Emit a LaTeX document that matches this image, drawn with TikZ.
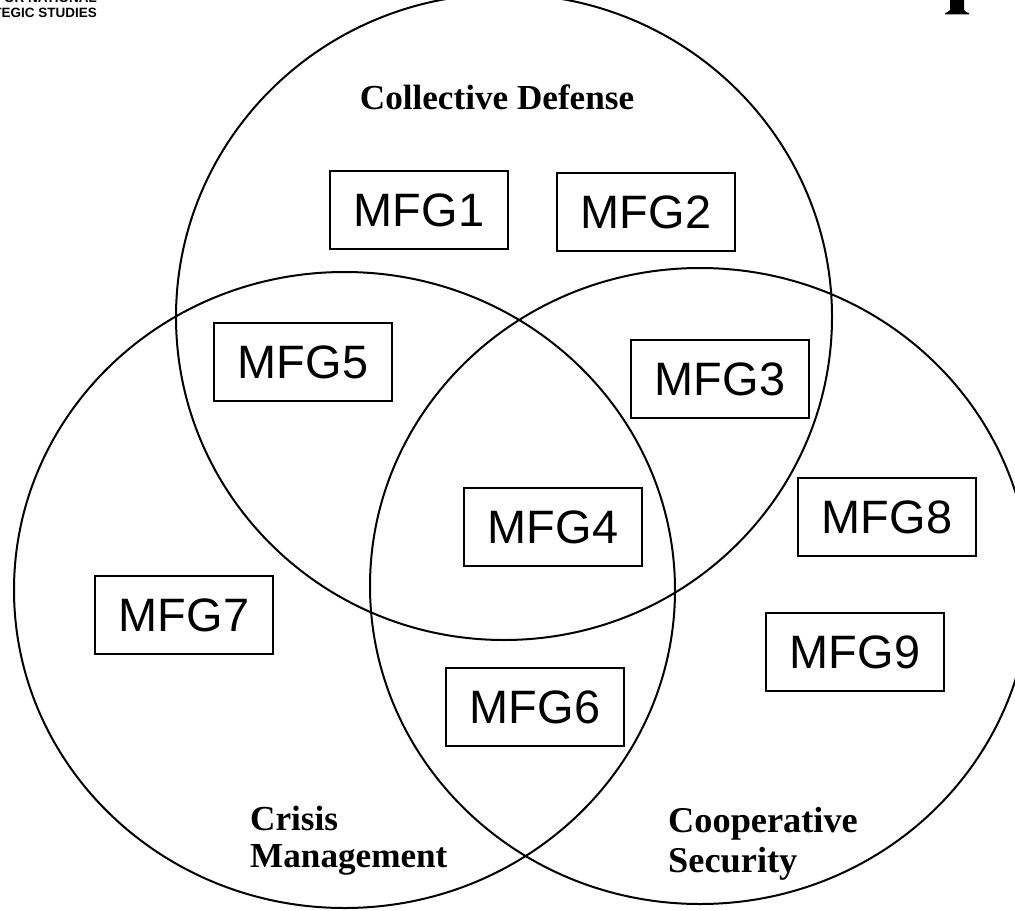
\documentclass[tikz,border=0pt]{standalone}
\usepackage{fontspec}
\setmainfont{Liberation Serif}
\newfontfamily\arialfont{Liberation Sans}
\begin{document}
\begin{tikzpicture}[x=0.3mm,y=-0.3mm,
  ring/.style={line width=0.6mm},
  mfgbox/.style={draw, line width=0.5mm, minimum width=53.4mm, minimum height=23.3mm, inner sep=0pt,
    font=\arialfont\fontsize{40}{48}\selectfont},
  setlabel/.style={inner sep=0pt, font=\bfseries\fontsize{30}{36}\selectfont},
  header/.style={inner sep=0pt, font=\arialfont\bfseries\fontsize{11.5}{13}\selectfont}]
\useasboundingbox (0,0) rectangle (1015,910);
\clip (0,0) rectangle (1015,910);
% circles
\draw[ring] (504,317) ellipse [x radius=328, y radius=323];
\draw[ring] (344.5,590) ellipse [x radius=330.5, y radius=318];
\draw[ring] (700,586) ellipse [x radius=330, y radius=318];
% set labels
\node[setlabel, anchor=base] (cd) at (497,110) {Collective Defense};
\node[setlabel, anchor=base west] (cm1) at (250,830) {Crisis};
\node[setlabel, anchor=base west] (cm2) at (250,867) {Management};
\node[setlabel, anchor=base west, font=\bfseries\fontsize{31}{37}\selectfont] (cs1) at (668,832) {Cooperative};
\node[setlabel, anchor=base west, font=\bfseries\fontsize{31}{37}\selectfont] (cs2) at (668,872) {Security};
% boxes
\node[mfgbox] (m1) at (419,210) {MFG1};
\node[mfgbox] (m2) at (646,212) {MFG2};
\node[mfgbox] (m5) at (303,362) {MFG5};
\node[mfgbox] (m3) at (720,379) {MFG3};
\node[mfgbox] (m4) at (553,527) {MFG4};
\node[mfgbox] (m8) at (887,517) {MFG8};
\node[mfgbox] (m7) at (184,615) {MFG7};
\node[mfgbox] (m9) at (855,652) {MFG9};
\node[mfgbox] (m6) at (535,707) {MFG6};
% cropped header fragments
\node[header, anchor=base east] (h1) at (97,3) {INSTITUTE FOR NATIONAL};
\node[header, anchor=base east] (h2) at (97,18) {STRATEGIC STUDIES};
\fill (950,0) -- (950,10) .. controls (949,12) and (947,12.5) .. (945,13) -- (945,14.5) -- (969,14.5) -- (969,13)
  .. controls (967,12.5) and (965,12) .. (964,10) -- (964,0) -- cycle;
\end{tikzpicture}
\end{document}
